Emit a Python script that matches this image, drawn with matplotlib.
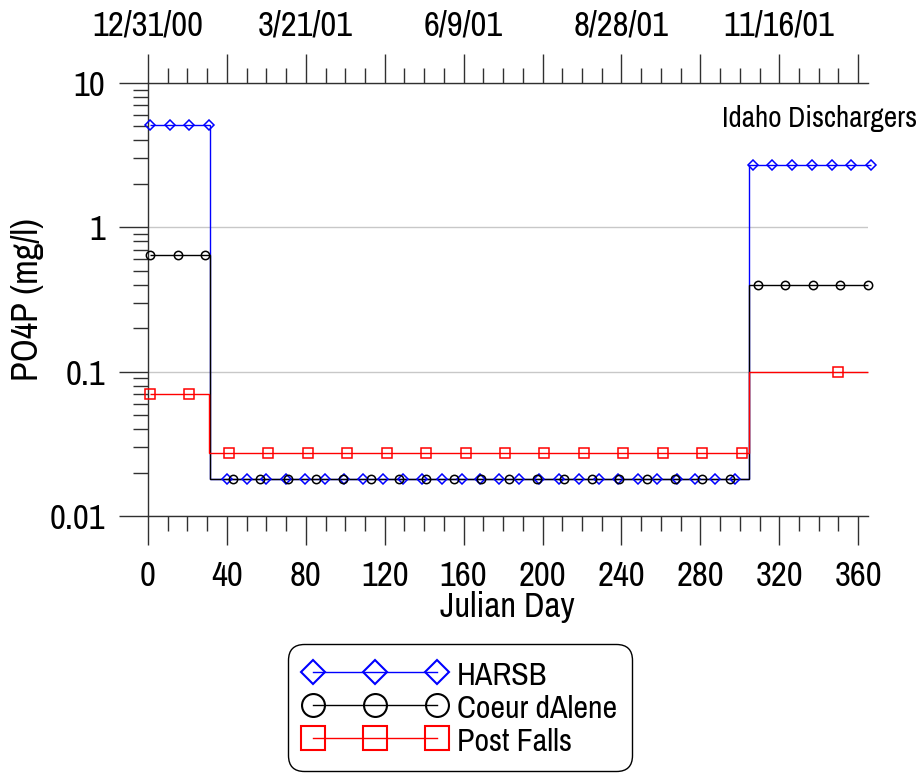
import matplotlib
matplotlib.use('Agg')
import matplotlib.pyplot as plt
from matplotlib.lines import Line2D
from matplotlib.ticker import FixedLocator, FixedFormatter, LogLocator, NullFormatter, MultipleLocator

plt.rcParams['font.family'] = ['Archivo Narrow', 'Liberation Sans', 'DejaVu Sans']

# ---------------- data ----------------
title = 'Idaho Dischargers'
x_label = 'Julian Day'
y_label = 'PO4P (mg/l)'
series_names = ['HARSB', 'Coeur dAlene', 'Post Falls']
series_colors = ['#0000ff', '#000000', '#ff0000']

x_ticks = [0, 40, 80, 120, 160, 200, 240, 280, 320, 360]
x_tick_labels = ['0', '40', '80', '120', '160', '200', '240', '280', '320', '360']
top_tick_labels = ['12/31/00', '', '3/21/01', '', '6/9/01', '', '8/28/01', '', '11/16/01', '']
y_ticks = [0.01, 0.1, 1, 10]
y_tick_labels = ['0.01', '0.1', '1', '10']

# step levels: edges (day) and level values
harsb_edges = [1, 31.3, 304.7, 366.5]
harsb_levels = [5.1, 0.018, 2.7]
coeur_edges = [1, 31.3, 304.7, 365]
coeur_levels = [0.64, 0.018, 0.4]
post_edges = [1, 31.0, 304.7, 365]
post_levels = [0.07, 0.0275, 0.1]

# marker samples
harsb_days = [1, 11, 21, 31,
              40, 50, 60, 70, 79.5, 89.5, 99.5, 109, 119, 129.5, 139, 149, 159, 168.5,
              178, 188, 198, 208.5, 218.5, 228.5, 238.5, 248.5, 258, 268, 277.5, 287.5, 297.5,
              306.5, 316.5, 326.5, 336.5, 346.5, 356.5, 366.5]
harsb_vals = [5.1, 5.1, 5.1, 5.1,
              0.018, 0.018, 0.018, 0.018, 0.018, 0.018, 0.018, 0.018, 0.018, 0.018, 0.018, 0.018, 0.018, 0.018,
              0.018, 0.018, 0.018, 0.018, 0.018, 0.018, 0.018, 0.018, 0.018, 0.018, 0.018, 0.018, 0.018,
              2.7, 2.7, 2.7, 2.7, 2.7, 2.7, 2.7]
coeur_days = [1, 15, 29,
              43, 57, 71, 85, 99, 113, 127, 141, 155, 169, 183, 197, 211, 225, 239, 253, 267, 281, 295,
              309, 323, 337, 351, 365]
coeur_vals = [0.64, 0.64, 0.64,
              0.018, 0.018, 0.018, 0.018, 0.018, 0.018, 0.018, 0.018, 0.018, 0.018, 0.018, 0.018, 0.018,
              0.018, 0.018, 0.018, 0.018, 0.018, 0.018,
              0.4, 0.4, 0.4, 0.4, 0.4]
post_days = [1, 21,
             41, 61, 81, 101, 121, 141, 161, 181, 201, 221, 241, 261, 281, 301,
             350]
post_vals = [0.07, 0.07,
             0.0275, 0.0275, 0.0275, 0.0275, 0.0275, 0.0275, 0.0275, 0.0275, 0.0275, 0.0275, 0.0275,
             0.0275, 0.0275, 0.0275,
             0.1]

# ---------------- figure ----------------
W, H = 921, 773
fig = plt.figure(figsize=(W / 100, H / 100), dpi=100)
L, R, T, B = 148, 868, 83, 516
ax = fig.add_axes([L / W, 1 - B / H, (R - L) / W, (B - T) / H])

ax.set_yscale('log')
ax.set_xlim(0, 365)
ax.set_ylim(0.01, 10)

ax.yaxis.grid(True, which='major', color='#c8c8c8', lw=1)
ax.set_axisbelow(True)

series = [
    (harsb_edges, harsb_levels, harsb_days, harsb_vals, 'D', 4.8),
    (coeur_edges, coeur_levels, coeur_days, coeur_vals, 'o', 6.0),
    (post_edges, post_levels, post_days, post_vals, 's', 7.3),
]
for (edges, levels, days, vals, mk, ms), col in zip(series, series_colors):
    ax.stairs(levels, edges, baseline=None, color=col, lw=1.0, clip_on=False)
    ax.plot(days, vals, linestyle='none', marker=mk, ms=ms, mfc='none', mec=col,
            mew=1.1, clip_on=False, zorder=3)

spine_col = '#303030'
for s in ['left', 'bottom']:
    ax.spines[s].set_color(spine_col)
    ax.spines[s].set_linewidth(1.0)
ax.spines['right'].set_visible(False)
ax.spines['top'].set_visible(False)

ax.xaxis.set_major_locator(FixedLocator(x_ticks))
ax.xaxis.set_major_formatter(FixedFormatter(x_tick_labels))
ax.xaxis.set_minor_locator(MultipleLocator(10))
ax.yaxis.set_major_locator(FixedLocator(y_ticks))
ax.yaxis.set_major_formatter(FixedFormatter(y_tick_labels))
ax.yaxis.set_minor_locator(LogLocator(base=10, subs=[2, 3, 4, 5, 6, 7, 8, 9]))
ax.yaxis.set_minor_formatter(NullFormatter())

ax.tick_params(axis='both', which='major', direction='out', length=21, width=1.0,
               color=spine_col, labelsize=25)
ax.tick_params(axis='both', which='minor', direction='out', length=10.5, width=1.0,
               color=spine_col)
ax.tick_params(axis='x', which='major', pad=11)
ax.tick_params(axis='y', which='major', pad=10)

# top axis with dates
ax2 = ax.twiny()
ax2.set_xlim(0, 365)
for s in ['left', 'bottom', 'right']:
    ax2.spines[s].set_visible(False)
ax2.spines['top'].set_color(spine_col)
ax2.spines['top'].set_linewidth(1.0)
ax2.xaxis.set_major_locator(FixedLocator(x_ticks))
ax2.xaxis.set_major_formatter(FixedFormatter(top_tick_labels))
ax2.xaxis.set_minor_locator(MultipleLocator(10))
ax2.tick_params(axis='x', which='major', direction='out', length=21, width=1.0,
                color=spine_col, labelsize=25, pad=9)
ax2.tick_params(axis='x', which='minor', direction='out', length=10.5, width=1.0,
                color=spine_col)

# labels
fig.text(507 / W, 1 - 607 / H, x_label, ha='center', va='center', fontsize=25)
fig.text(28 / W, 1 - 300 / H, y_label, ha='center', va='center', rotation=90, fontsize=26)
fig.text(917 / W, 1 - 118 / H, title, ha='right', va='center', fontsize=21)

# legend
handles = [
    Line2D([], [], color=series_colors[0], lw=1.0, marker='D', ms=12.5, mfc='none', mew=1.5),
    Line2D([], [], color=series_colors[1], lw=1.0, marker='o', ms=16.5, mfc='none', mew=1.5),
    Line2D([], [], color=series_colors[2], lw=1.0, marker='s', ms=17, mfc='none', mew=1.5),
]
leg = fig.legend(handles, series_names, loc='upper center',
                 bbox_to_anchor=(460 / W, 1 - 644 / H), numpoints=3, fontsize=23,
                 handlelength=4.5, handleheight=1.06, handletextpad=0.3, borderpad=0.47,
                 labelspacing=0.07, borderaxespad=0, frameon=True, fancybox=True, framealpha=1)
fr = leg.get_frame()
fr.set_edgecolor('black')
fr.set_linewidth(1.0)
fr.set_boxstyle('round,pad=0,rounding_size=0.5')

fig.savefig('out.png', dpi=100)
